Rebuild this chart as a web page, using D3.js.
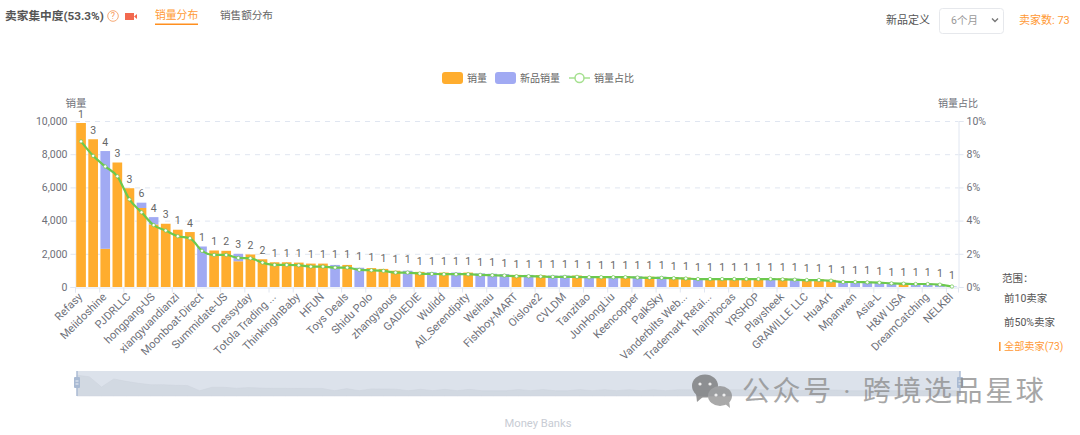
<!DOCTYPE html>
<html>
<head>
<meta charset="utf-8">
<script src="https://cdn.jsdelivr.net/npm/d3@7/dist/d3.min.js"></script>
<style>
  html, body { margin: 0; padding: 0; background: #fff; overflow: hidden; }
  svg { display: block; font-family: Roboto, "Noto Sans CJK SC", sans-serif; }
</style>
</head>
<body>
<svg id="chart" width="1080" height="435"></svg>
<script>
// only every second seller gets a label on the axis
const tickLabels = ['Refasy', 'Meiidoshine', 'PJDRLLC', 'hongpang-US', 'xiangyuandianzi', 'Moonboat-Direct',
  'Summidate-US', 'Dressyday', 'Totola Trading ...', 'ThinkingInBaby', 'HFUN', 'Toys Deals', 'Shidu Polo',
  'zhangyaous', 'GADIEDIE', 'Wulidd', 'All_Serendipity', 'Weihau', 'Fishboy-MART', 'Oislove2', 'CVLDM',
  'Tanzitao', 'JunHongLiu', 'Keencopper', 'PalkSky', 'Vanderbilts Web...', 'Trademark Retai...', 'hairphocas',
  'YRSHOP', 'Playsheek', 'GRAWILLE LLC', 'HuaArt', 'Mpanwen', 'Asia-L', 'H&W USA', 'DreamCatching', 'NELKBI']

const sales = [9880, 8900, 2300, 7500, 5950, 4760, 3770, 3810, 3450, 3310, 0, 2200, 2180, 1550, 1960, 1670, 1490,
  1490, 1470, 1410, 1410, 0, 1330, 0, 1140, 1090, 980, 0, 910, 0, 870, 0, 870, 0, 0, 0, 730, 0, 710, 0, 0, 690,
  0, 660, 0, 660, 0, 620, 0, 600, 570, 0, 540, 540, 540, 540, 540, 0, 520, 0, 470, 470, 430, 0, 0, 0, 0, 0, 230,
  0, 0, 0, 0]

const newSales = [0, 0, 5890, 0, 0, 320, 440, 0, 0, 0, 2440, 0, 0, 450, 0, 0, 0, 0, 0, 0, 0, 1330, 0, 1160, 0, 0,
  0, 980, 0, 890, 0, 870, 0, 820, 800, 780, 0, 730, 0, 690, 690, 0, 660, 0, 660, 0, 640, 0, 620, 0, 0, 540, 0, 0,
  0, 0, 0, 540, 0, 500, 0, 0, 0, 340, 340, 320, 290, 250, 0, 200, 200, 160, 30]

const share = [8.77, 7.9, 7.26, 6.67, 5.28, 4.5, 3.73, 3.4, 3.06, 2.94, 2.18, 1.93, 1.93, 1.75, 1.73, 1.47, 1.33,
  1.33, 1.31, 1.23, 1.23, 1.17, 1.17, 1.03, 1.01, 0.97, 0.87, 0.87, 0.81, 0.79, 0.77, 0.77, 0.77, 0.73, 0.71,
  0.69, 0.65, 0.65, 0.63, 0.61, 0.61, 0.61, 0.59, 0.59, 0.59, 0.59, 0.57, 0.55, 0.55, 0.53, 0.51, 0.48, 0.48,
  0.48, 0.48, 0.48, 0.48, 0.48, 0.46, 0.44, 0.42, 0.42, 0.38, 0.3, 0.3, 0.28, 0.26, 0.22, 0.2, 0.18, 0.18, 0.14,
  0.03]

// number above each bar
const counts = [1, 3, 4, 3, 3, 6, 4, 3, 1, 4, 1, 1, 2, 3, 2, 2, 1, 1, 1, 1, 1, 1, 1, 1, 1, 1, 1, 1, 1, 1, 1, 1, 1,
  1, 1, 1, 1, 1, 1, 1, 1, 1, 1, 1, 1, 1, 1, 1, 1, 1, 1, 1, 1, 1, 1, 1, 1, 1, 1, 1, 1, 1, 1, 1, 1, 1, 1, 1, 1, 1,
  1, 1, 1]

const salesTicks = [0, 2000, 4000, 6000, 8000, 10000]
const shareTicks = [0, 2, 4, 6, 8, 10]

const ORANGE = '#ffad2e', BLUE = '#a1aaf3', GREEN = '#6cc94e', AXIS = '#e0e6f1', TEXT = '#6e7079', ACCENT = '#ff9a36'

const svg = d3.select('#chart')
const plotLeft = 75, plotRight = 958, plotTop = 121, plotBottom = 287

const x = d3.scaleBand().domain(d3.range(sales.length)).range([plotLeft, plotRight]).paddingInner(0.2).paddingOuter(0.1)
const y = d3.scaleLinear().domain([0, 10000]).range([plotBottom, plotTop])
const yShare = d3.scaleLinear().domain([0, 10]).range([plotBottom, plotTop])

function label(txt, px, py, size, color, anchor, weight) {
  return svg.append('text').attr('x', px).attr('y', py).attr('dy', '0.35em')
    .attr('font-size', size).attr('fill', color)
    .attr('text-anchor', anchor || 'start').attr('font-weight', weight || 400)
    .text(txt)
}

// grid
svg.append('g').selectAll('line').data(salesTicks.slice(1)).enter().append('line')
  .attr('x1', plotLeft).attr('x2', plotRight)
  .attr('y1', d => y(d) + 0.5).attr('y2', d => y(d) + 0.5)
  .attr('stroke', AXIS).attr('stroke-dasharray', '5,5')

// axes
const yAxisLeft = svg.append('g').attr('transform', `translate(${plotLeft + 0.5},0)`)
  .call(d3.axisLeft(y).tickValues(salesTicks).tickFormat(d3.format(',')).tickSize(5).tickPadding(3))
const yAxisRight = svg.append('g').attr('transform', `translate(${plotRight + 0.5},0)`)
  .call(d3.axisRight(yShare).tickValues(shareTicks).tickFormat(d => d + '%').tickSize(5).tickPadding(3))
const xAxis = svg.append('g').attr('transform', `translate(0,${plotBottom + 0.5})`)
  .call(d3.axisBottom(x).tickValues(tickLabels.map((d, i) => i * 2)).tickFormat(i => tickLabels[i / 2]).tickSize(5).tickPadding(3))

xAxis.selectAll('.tick line').attr('transform', `translate(${-x.step() / 2 + 0.5},0)`)
xAxis.selectAll('.tick text')
  .attr('text-anchor', 'end').attr('dy', 0).attr('y', 0)
  .attr('transform', 'translate(2,10) rotate(-45)')

;[yAxisLeft, yAxisRight, xAxis].forEach(a => {
  a.attr('font-family', null).attr('font-size', 10.5)
  a.selectAll('line').attr('stroke', AXIS)
  a.selectAll('.domain').attr('stroke', AXIS)
  a.selectAll('text').attr('fill', TEXT)
})
xAxis.attr('font-size', 11.1)

// stacked bars
const stack = d3.stack().keys(['sales', 'newSales'])
const rows = sales.map((d, i) => ({ i: i, sales: d, newSales: newSales[i] }))
const layers = stack(rows)
svg.selectAll('g.layer').data(layers).enter().append('g').attr('class', 'layer')
    .attr('fill', (d, i) => i === 0 ? ORANGE : BLUE)
  .selectAll('rect').data(d => d).enter().append('rect')
    .attr('x', d => x(d.data.i))
    .attr('width', x.bandwidth())
    .attr('y', d => y(d[1]))
    .attr('height', d => y(d[0]) - y(d[1]))

// count labels, they sit a little higher over the short bars
svg.append('g').selectAll('text').data(counts).enter().append('text')
  .attr('x', (d, i) => x(i) + x.bandwidth() / 2)
  .attr('y', (d, i) => {
    const total = sales[i] + newSales[i]
    return y(total) - (total > 1400 ? 9 : 11)
  })
  .attr('dy', '0.35em')
  .attr('text-anchor', 'middle').attr('font-size', 10.5).attr('fill', '#666')
  .text(d => d)

// share line
const line = d3.line().x((d, i) => x(i) + x.bandwidth() / 2).y(d => yShare(d)).curve(d3.curveMonotoneX)
svg.append('path').datum(share).attr('d', line).attr('fill', 'none').attr('stroke', GREEN).attr('stroke-width', 2.2)
svg.append('g').selectAll('circle').data(share).enter().append('circle')
  .attr('cx', (d, i) => x(i) + x.bandwidth() / 2).attr('cy', d => yShare(d)).attr('r', 1.7)
  .attr('fill', '#fff').attr('stroke', GREEN).attr('stroke-width', 0.7)

label('销量', 76, 103, 10.5, TEXT, 'middle')
label('销量占比', 958, 103, 10, TEXT, 'middle')

// legend
svg.append('rect').attr('x', 442).attr('y', 72).attr('width', 21).attr('height', 12).attr('rx', 3).attr('fill', ORANGE)
label('销量', 467, 78, 10, '#666')
svg.append('rect').attr('x', 495).attr('y', 72).attr('width', 21).attr('height', 12).attr('rx', 3).attr('fill', BLUE)
label('新品销量', 520, 78, 10, '#666')
svg.append('line').attr('x1', 569).attr('x2', 590).attr('y1', 78).attr('y2', 78).attr('stroke', '#a5e08f').attr('stroke-width', 1.5)
svg.append('circle').attr('cx', 579.5).attr('cy', 78).attr('r', 4.5).attr('fill', '#fff').attr('stroke', '#a5e08f').attr('stroke-width', 1.5)
label('销量占比', 594, 78, 10, '#666')

// header
label('卖家集中度(53.3%)', 5, 16, 11.7, '#555', 'start', 700)
svg.append('circle').attr('cx', 113).attr('cy', 16).attr('r', 5.3).attr('fill', 'none').attr('stroke', '#f7ab78')
label('?', 113, 16, 9, '#f79a5c', 'middle')
svg.append('rect').attr('x', 125).attr('y', 13).attr('width', 9).attr('height', 7).attr('fill', '#f2694f')
svg.append('path').attr('d', d3.line()([[134, 16.5], [137, 14], [137, 19]])).attr('fill', '#f2694f')
label('销量分布', 155, 15, 10.8, ACCENT)
svg.append('rect').attr('x', 155).attr('y', 23.5).attr('width', 43).attr('height', 1.5).attr('fill', '#ff8f1f')
label('销售额分布', 220, 15, 10.6, '#666')

label('新品定义', 886, 20, 11, '#555')
svg.append('rect').attr('x', 939.5).attr('y', 8.5).attr('width', 64).attr('height', 25).attr('rx', 3)
  .attr('fill', '#fff').attr('stroke', '#e6e8ec')
label('6个月', 951, 20, 10.5, '#999')
svg.append('path').attr('d', d3.line()([[992, 18.5], [995, 21.5], [998, 18.5]])).attr('fill', 'none').attr('stroke', '#777').attr('stroke-width', 1.4)
label('卖家数: 73', 1019, 20, 11, ACCENT)

// range selector
label('范围：', 1002, 278, 10.5, '#555')
label('前10卖家', 1004, 298, 10.5, '#555')
label('前50%卖家', 1004, 322, 10.5, '#555')
label('全部卖家(73)', 1004, 346, 10.2, ACCENT)
svg.append('rect').attr('x', 999).attr('y', 342).attr('width', 1.6).attr('height', 9).attr('fill', ACCENT)

// data zoom
const zoomLeft = 77, zoomRight = 960, zoomTop = 371, zoomBottom = 396
const zx = d3.scaleLinear().domain([0, sales.length - 1]).range([zoomLeft, zoomRight])
const zy = d3.scaleLinear().domain([-3400, 10000]).range([zoomBottom, 375])
svg.append('rect').attr('x', zoomLeft).attr('y', zoomTop).attr('width', zoomRight - zoomLeft)
  .attr('height', zoomBottom - zoomTop).attr('fill', '#dce2eb')
svg.append('path').datum(sales)
  .attr('d', d3.area().x((d, i) => zx(i)).y0(zoomBottom).y1(d => zy(d)))
  .attr('fill', '#d2d9e2').attr('stroke', '#ccd3dd').attr('stroke-width', 0.5)
;[zoomLeft, zoomRight].forEach(hx => {
  svg.append('rect').attr('x', hx - 0.7).attr('y', zoomTop).attr('width', 1.4).attr('height', zoomBottom - zoomTop).attr('fill', '#a9bad3')
  svg.append('rect').attr('x', hx - 3).attr('y', 377).attr('width', 6).attr('height', 11).attr('rx', 1).attr('fill', '#a9bad3')
  svg.append('path').attr('d', `M${hx - 1.5},381H${hx + 1.5}M${hx - 1.5},384H${hx + 1.5}`).attr('stroke', '#fff').attr('stroke-width', 0.8)
})
label('Money Banks', 538, 423, 11.2, '#c8ccd4', 'middle')

// watermark
const mark = svg.append('g').attr('fill', '#707070').attr('opacity', 0.72)
mark.append('ellipse').attr('cx', 705).attr('cy', 386).attr('rx', 13).attr('ry', 11.5)
mark.append('path').attr('d', 'M696,393L697,402L704,396Z')
mark.append('ellipse').attr('cx', 720).attr('cy', 396).attr('rx', 12).attr('ry', 10).attr('fill', '#888')
mark.append('path').attr('d', 'M724,403L730,408L729,400Z').attr('fill', '#888')
;[[700, 384], [710, 384], [716, 395], [724, 395]].forEach(p => {
  svg.append('circle').attr('cx', p[0]).attr('cy', p[1]).attr('r', 1.6).attr('fill', '#eee')
})
label('公众号 · 跨境选品星球', 742, 391, 28, '#8a8a8a').attr('opacity', 0.75).attr('letter-spacing', 2.6)
</script>
</body>
</html>
